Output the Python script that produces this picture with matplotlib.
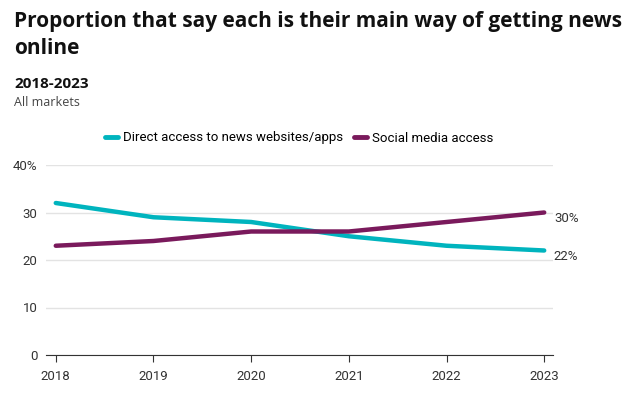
import matplotlib.pyplot as plt
from matplotlib.lines import Line2D

years = [2018, 2019, 2020, 2021, 2022, 2023]
direct = [32, 29, 28, 25, 23, 22]
social = [23, 24, 26, 26, 28, 30]
series_names = ["Direct access to news websites/apps", "Social media access"]
yticks = [0, 10, 20, 30, 40]
ytick_labels = ["0", "10", "20", "30", "40%"]

teal = "#00b4be"
purple = "#7a1a5c"

plt.rcParams['font.family'] = ['Roboto', 'DejaVu Sans']
head = ['Open Sans', 'DejaVu Sans']

fig = plt.figure(figsize=(6.36, 4.01), dpi=100)
ax = fig.add_axes([46 / 636, 1 - 355 / 401, 507 / 636, 190 / 401])

ax.plot(years, direct, color=teal, linewidth=3.2, solid_capstyle='round', zorder=3)
ax.plot(years, social, color=purple, linewidth=3.2, solid_capstyle='round', zorder=3)

ax.set_xlim(2017.9, 2023.09)
ax.set_ylim(0, 40)
ax.set_xticks(years)
ax.set_xticklabels([str(y) for y in years], fontsize=9.5, color='#333333')
ax.set_yticks(yticks)
ax.set_yticklabels(ytick_labels, fontsize=9.5, color='#333333')
ax.tick_params(axis='y', length=0, pad=6)
ax.tick_params(axis='x', length=5, color='#333333', pad=6)
ax.grid(axis='y', color='#e3e3e3', linewidth=1)
ax.set_axisbelow(True)
for side in ['top', 'right', 'left']:
    ax.spines[side].set_visible(False)
ax.spines['bottom'].set_color('#333333')

# end labels
ax.annotate(f"{social[-1]}%", (years[-1], social[-1]), xytext=(7, -4),
            textcoords='offset points', va='center', fontsize=9.5, color='#333333')
ax.annotate(f"{direct[-1]}%", (years[-1], direct[-1]), xytext=(7, -4),
            textcoords='offset points', va='center', fontsize=9.5, color='#333333')

handles = [Line2D([], [], color=teal, linewidth=3.5, solid_capstyle='round'),
           Line2D([], [], color=purple, linewidth=3.5, solid_capstyle='round')]
fig.legend(handles, series_names, loc='center', bbox_to_anchor=(299 / 636, 1 - 138 / 401),
           ncol=2, frameon=False, fontsize=9.5, handlelength=1.0, handletextpad=0.4,
           columnspacing=0.8)

fig.text(14 / 636, 1 - 21 / 401, "Proportion that say each is their main way of getting news",
         fontsize=15, fontweight='bold', va='center', color='#111111', family=head)
fig.text(14 / 636, 1 - 49 / 401, "online", fontsize=15, fontweight='bold', va='center',
         color='#111111', family=head)
fig.text(14 / 636, 1 - 84 / 401, "2018-2023", fontsize=11, fontweight='bold', va='center',
         color='#111111', family=head)
fig.text(14 / 636, 1 - 103 / 401, "All markets", fontsize=9, va='center', color='#444444',
         family=head)

fig.savefig("out.png", dpi=100)
